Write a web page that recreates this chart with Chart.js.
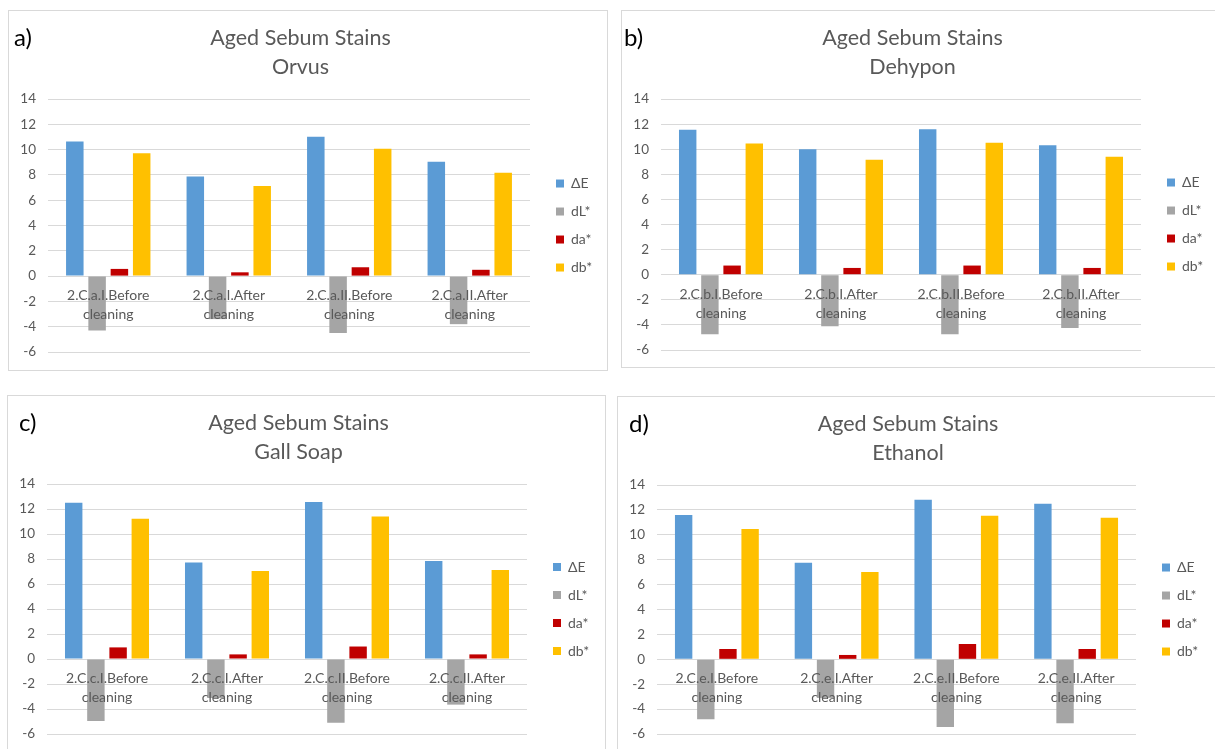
<!DOCTYPE html>
<html>
<head>
<meta charset="utf-8">
<script src="https://cdn.jsdelivr.net/npm/chart.js@4.4.1/dist/chart.umd.min.js"></script>
<style>
  html, body { margin: 0; padding: 0; background: #fff; overflow: hidden; }
  body { width: 1215px; height: 749px; position: relative; font-family: Lato, "Noto Sans", sans-serif; }
  .panel { position: absolute; border: 1px solid #d9d9d9; background: #fff; overflow: visible; }
  .panel canvas { display: block; position: absolute; left: 0; top: 0; }
  .tag { position: absolute; font-size: 24px; line-height: 24px; color: #000; }
</style>
</head>
<body>
<div class="panel" style="left:8px;top:10px;width:598px;height:359px;"><canvas id="chartA" width="598" height="363"></canvas></div>
<div class="panel" style="left:621px;top:10px;width:598px;height:356px;"><canvas id="chartB" width="598" height="361"></canvas></div>
<div class="panel" style="left:7px;top:395px;width:597px;height:358px;"><canvas id="chartC" width="597" height="360"></canvas></div>
<div class="panel" style="left:617px;top:396px;width:598px;height:358px;"><canvas id="chartD" width="598" height="359"></canvas></div>
<div class="tag" style="left:14px;top:25px;">a)</div>
<div class="tag" style="left:624px;top:25px;">b)</div>
<div class="tag" style="left:19px;top:410px;">c)</div>
<div class="tag" style="left:629px;top:411px;">d)</div>

<script>
// Colour difference measurements, aged sebum stains, per cleaning agent
const seriesNames = ['ΔE', 'dL*', 'da*', 'db*'];
const yTicks = [-6, -4, -2, 0, 2, 4, 6, 8, 10, 12, 14];

// a) Orvus
const orvusLabels = [['2.C.a.I.Before', 'cleaning'], ['2.C.a.I.After', 'cleaning'], ['2.C.a.II.Before', 'cleaning'], ['2.C.a.II.After', 'cleaning']];
const orvusDE = [10.65, 7.87, 11.02, 9.05];
const orvusDL = [-4.3, -3.4, -4.5, -3.8];
const orvusDA = [0.57, 0.3, 0.7, 0.5];
const orvusDB = [9.72, 7.12, 10.08, 8.18];

// b) Dehypon
const dehyponLabels = [['2.C.b.I.Before', 'cleaning'], ['2.C.b.I.After', 'cleaning'], ['2.C.b.II.Before', 'cleaning'], ['2.C.b.II.After', 'cleaning']];
const dehyponDE = [11.55, 10.0, 11.6, 10.32];
const dehyponDL = [-4.75, -4.1, -4.75, -4.25];
const dehyponDA = [0.73, 0.54, 0.73, 0.54];
const dehyponDB = [10.46, 9.17, 10.52, 9.4];

// c) Gall Soap
const gallLabels = [['2.C.c.I.Before', 'cleaning'], ['2.C.c.I.After', 'cleaning'], ['2.C.c.II.Before', 'cleaning'], ['2.C.c.II.After', 'cleaning']];
const gallDE = [12.5, 7.73, 12.56, 7.84];
const gallDL = [-4.96, -3.12, -5.09, -3.65];
const gallDA = [0.93, 0.37, 1.0, 0.37];
const gallDB = [11.23, 7.04, 11.41, 7.12];

// d) Ethanol
const ethanolLabels = [['2.C.e.I.Before', 'cleaning'], ['2.C.e.I.After', 'cleaning'], ['2.C.e.II.Before', 'cleaning'], ['2.C.e.II.After', 'cleaning']];
const ethanolDE = [11.59, 7.76, 12.82, 12.5];
const ethanolDL = [-4.82, -3.1, -5.43, -5.14];
const ethanolDA = [0.83, 0.35, 1.23, 0.83];
const ethanolDB = [10.47, 7.01, 11.54, 11.38];

const palette = ['#5B9BD5', '#A5A5A5', '#C00000', '#FFC000'];
const textGrey = '#595959';
const gridGrey = '#d9d9d9';

Chart.defaults.font.family = 'Lato, "Noto Sans", sans-serif';
Chart.defaults.color = textGrey;

function buildChart(canvasId, subtitle, labels, seriesValues, padRight) {
  const datasets = seriesValues.map((values, i) => ({
    label: seriesNames[i],
    data: values,
    backgroundColor: palette[i],
    borderWidth: 0,
    categoryPercentage: 0.74,
    barPercentage: 0.785
  }));

  return new Chart(document.getElementById(canvasId), {
    type: 'bar',
    data: { labels: labels, datasets: datasets },
    options: {
      responsive: false,
      animation: false,
      devicePixelRatio: 1,
      layout: { padding: { left: 0, top: 0, right: padRight, bottom: 22 } },
      plugins: {
        tooltip: { enabled: false },
        title: {
          display: true,
          text: ['Aged Sebum Stains', subtitle],
          color: textGrey,
          font: { size: 21.5, weight: 'normal', lineHeight: 1.35 },
          padding: { top: 13, bottom: 17 }
        },
        legend: {
          display: true,
          position: 'right',
          fullSize: false,
          maxWidth: 50,
          labels: {
            boxWidth: 8,
            boxHeight: 8,
            padding: 14,
            color: textGrey,
            font: { size: 14 }
          }
        }
      },
      scales: {
        x: {
          type: 'category',
          position: { y: 0 },
          grid: { display: false, drawTicks: false },
          border: { display: false },
          ticks: {
            z: 1,
            color: textGrey,
            font: { size: 14, lineHeight: 1.36 },
            padding: 10,
            maxRotation: 0,
            autoSkip: false
          }
        },
        y: {
          type: 'linear',
          position: 'left',
          min: yTicks[0],
          max: yTicks[yTicks.length - 1],
          afterBuildTicks: (scale) => { scale.ticks = yTicks.map(v => ({ value: v })); },
          afterFit: (scale) => { scale.width = 39; },
          grid: { color: gridGrey, lineWidth: 1, drawTicks: false },
          border: { display: false },
          ticks: { color: textGrey, font: { size: 13.5 }, padding: 12 }
        },
        // spacer between the plot area and the legend
        gap: {
          type: 'linear',
          axis: 'y',
          position: 'right',
          display: true,
          grid: { display: false, drawTicks: false },
          border: { display: false },
          ticks: { display: false },
          afterFit: (scale) => { scale.width = 12; }
        }
      }
    }
  });
}

buildChart('chartA', 'Orvus', orvusLabels, [orvusDE, orvusDL, orvusDA, orvusDB], 15);
buildChart('chartB', 'Dehypon', dehyponLabels, [dehyponDE, dehyponDL, dehyponDA, dehyponDB], 17);
buildChart('chartC', 'Gall Soap', gallLabels, [gallDE, gallDL, gallDA, gallDB], 16);
buildChart('chartD', 'Ethanol', ethanolLabels, [ethanolDE, ethanolDL, ethanolDA, ethanolDB], 18);
</script>
</body>
</html>
